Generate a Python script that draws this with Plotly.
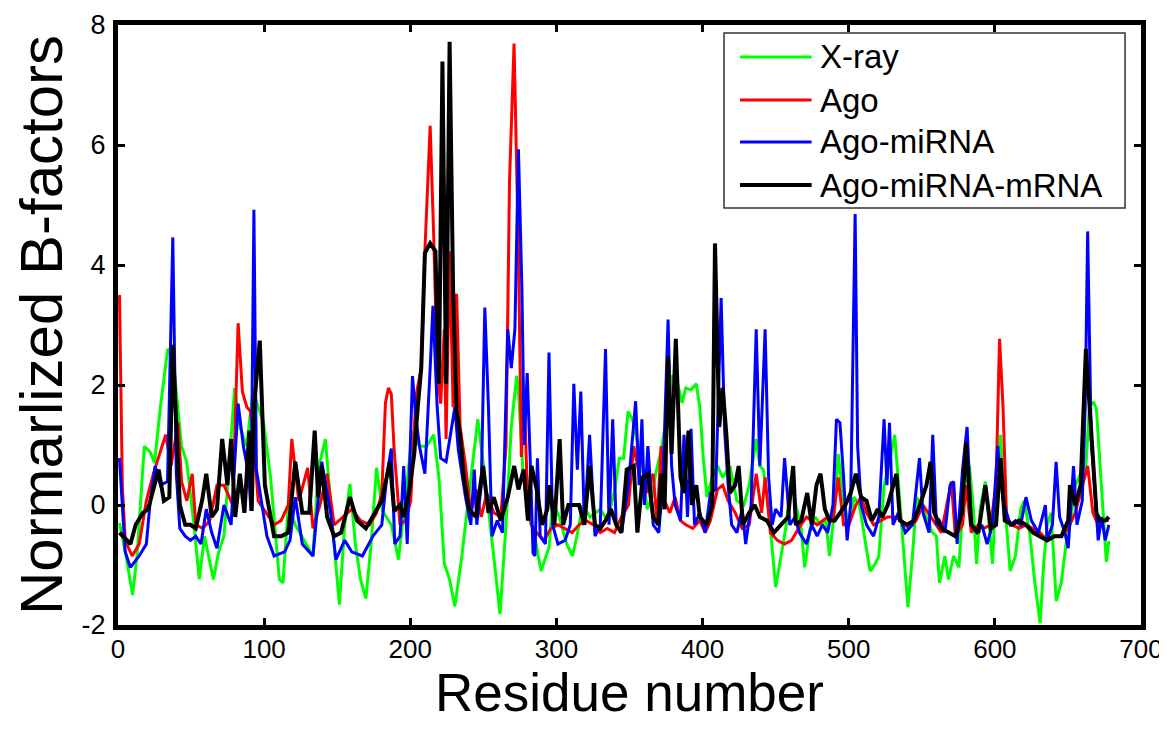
import plotly.graph_objects as go

# ---------------- data ----------------
xray_res = [1, 5, 10, 13, 18, 22, 25, 29, 34, 37.5, 43.5, 47, 52, 55.6, 59.2, 65.3, 68.9, 72.5, 76, 79.8, 83.4, 88,
            92.3, 99.6, 104.4, 110.4, 112.9, 116.5, 121.3, 127.3, 133.4, 137, 141.9, 146.7, 151.5, 155.1, 158.7, 162.4,
            166, 169.6, 173.2, 176.9, 181, 187, 191.9, 196.7, 201.5, 206.3, 211.2, 216, 219.6, 223.3, 226.9, 230.5,
            235.3, 239, 242.6, 246.2, 249.8, 253.5, 257.1, 261.4, 265.5, 269.1, 272.8, 274, 277, 281, 285, 289.5, 295,
            297.4, 302, 307, 311, 314, 318, 323, 330, 335, 340, 343, 346, 349, 352, 355, 359, 362, 365, 367.9, 371.6,
            375.2, 378.8, 382.4, 386, 388.5, 392.1, 395.7, 398.1, 400.5, 403, 406.6, 410.2, 413.8, 418.7, 423.5, 428.3,
            431.9, 436.7, 439.2, 441.6, 445.2, 447.6, 450, 453.7, 457.3, 460.5, 463.8, 467.5, 469.9, 473.5, 477.1,
            480.7, 484.4, 486.8, 490.4, 492.8, 496.5, 500.1, 503.7, 507.3, 510.9, 514.6, 518.2, 520.6, 524.2, 527.9,
            531.5, 535.1, 537.5, 540.5, 543.6, 546.5, 549.6, 553.2, 557, 560, 562.1, 565.8, 568.2, 571.8, 575.4, 579,
            582.6, 585.1, 587.5, 589.9, 593.5, 595.9, 598.4, 600.8, 603.9, 606.8, 610.5, 614.1, 617.7, 620.1, 623.8,
            627.4, 631, 633.4, 635.8, 638.5, 642, 645.4, 649, 651.4, 655, 658.7, 662.3, 664.7, 667.5, 669.5, 671.9,
            674.3, 676.3, 678]
xray_val = [-0.3, -0.78, -1.5, -0.85, 0.98, 0.88, 0.7, 1.63, 2.6, 2.48, 0.98, 0.72, -0.33, -1.24, -0.52, -1.24, -0.78,
            -0.52, 0.65, 1.95, 1.3, 0.98,
            1.89, 1.37, 0.46, -1.24, -1.3, 0.0, -0.33, -0.59, -0.85, 0.59, 1.1, -0.33, -1.66, -0.33, 0.35, -0.65,
            -1.24, -1.56, -0.65, 0.62, -0.1, -0.33, -0.91, 0.13, 1.24, 0.98, 0.98, 1.17, 0.46, -0.98, -1.24, -1.69,
            -0.85, -0.07, 0.65, 1.43, 0.72, -0.13, -0.85, -1.82, -0.33, 1.3, 2.15, 1.9, 0.6, -0.2, -0.5, -1.1, -0.7,
            0.07, -0.2, -0.65, -0.85, -0.52, 0.0, -0.2, -0.07, -0.26, 0.26, 0.78, 0.78, 1.56, 1.43, 1.1, 0.65, -0.07,
            0.1, 0.52, 0.91,
            1.43, 2.15, 2.08, 1.7, 1.95, 1.92, 2.02, 1.63, 0.78, 0.13, 0.46, 0.65, 0.46, 0.65, 0.07, 0.0,
            0.33, 1.1, 0.65, 0.59, -0.07, -0.78, -1.37, -0.85, -0.33, 0.45, 0.0, -0.39, -1.04, -0.39, -0.2,
            -0.33, -0.26, -0.85, -0.07, 0.85, 0.07, -0.33, 0.13, 0.0, -0.52, -1.1, -0.98, -0.85, 0.33, 0.72,
            1.17, 0.0, -0.85, -1.7, -0.85, 0.13, 0.0, -0.2, -0.45, -0.52, -1.3, -0.85, -1.24, -0.85, -1.04, 0.33,
            0.65, 0.0, -0.98, -0.07, 0.39, -0.33, -0.98, 0.33, 1.17, 0.0, -1.1, -0.85, -0.07, 0.07, -0.46,
            -1.3, -1.97, -0.98, -0.33, -0.13, -1.6, -1.3, -0.59, -0.33, 0.33, 0.52, 0.65, 1.63, 1.72, 1.6, 0.65,
            -0.33, -0.95, -0.6]

ago_res = [1, 3, 5, 9.7, 14.5, 19.4, 24.2, 29, 32.6, 36.3, 41.1, 43.5, 47.1, 50.8, 53.2, 58, 62.8, 67.7, 72.5, 78.5,
           82.2, 85.1, 88.2, 90.6, 93, 95.9, 101.5, 106.8, 111.6, 116.5, 118.9, 123.7, 129.8, 133.4, 138.2, 143.1,
           147.9, 153.9, 160, 166, 172.1, 176.9, 180.5, 183, 185, 187, 189, 193, 196.7, 200.3, 203.9, 207.5, 210,
           213.6, 216, 218.4, 220.8, 223.3, 224.5, 226.9, 229.3, 231.7, 234.1, 237.8, 241.4, 245, 248.6, 252.3, 257.1,
           261.9, 265.5, 267.9, 271, 274, 276, 278, 280, 282.9, 286.5, 291.4, 296.2, 301, 305.9, 310.7, 315.5, 320.3,
           325.2, 330, 334.8, 339.7, 344.5, 349.3, 352.9, 356.6, 361.4, 366.2, 368.9, 371.6, 374, 377.6, 381.2, 384.9,
           388.5, 393.3, 398.1, 401.8, 405.4, 410.2, 413.8, 417.5, 422.3, 427.1, 431.9, 436.7, 440.4, 442.8, 446.4,
           451.2, 456.1, 460.9, 465.7, 471.1, 478.4, 485.6, 489.2, 492.8, 496.5, 500.1, 504.9, 508.5, 512.2, 517,
           521.8, 526.7, 531.5, 536.3, 541.1, 546, 550.8, 558, 563.4, 570.2, 573, 577.9, 580.3, 583.9, 588.7, 592.3,
           597.2, 600.8, 603.2, 605.6, 608, 611.7, 616.5, 621.3, 626.2, 631, 635.8, 640.7, 645.5, 650.2, 655, 659.8,
           663.5, 667.1, 670.7, 674.3, 678]
ago_val = [3.5, 0.3, -0.6, -0.85, -0.65, 0.07, 0.52, 0.91, 1.17, 0.65, 1.37, 0.39, 0.07, 0.52, -0.33, -0.39, -0.26,
           0.33, 0.33, 0.0, 3.03, 1.89, 1.63, 1.56, 1.04, 0.07, -0.13, -0.33, -0.26, 0.0, 1.1, 0.07, 0.62, -0.39, 0.0,
           0.52, -0.33, -0.2, -0.07, -0.26, -0.33, -0.13, 0.2, 1.7, 1.95, 1.85, 0.9, -0.33, -0.26, 0.07, 1.82, 2.28,
           4.23, 6.32, 4.5, 2.28, 1.69, 2.93, 1.1, 4.23, 1.63, 3.52, 1.3, 0.65, -0.13, 0.26, -0.2, 0.2, -0.13, -0.2,
           0.98, 5.4, 7.69, 4.23, 0.8, 1.8, 0.3, -0.33, -0.46, -0.59, -0.39, -0.33, -0.39, -0.46, -0.33, -0.26, -0.33,
           -0.46, -0.39, -0.46, -0.2, 0.0, 0.98, 0.52, 0.2, 0.52, -0.3, 0.98, 0.07, -0.13, 0.13, -0.26, -0.33, -0.39,
           -0.26, -0.46, -0.26, 0.26, 0.33, 0.07, -0.13, -0.39, -0.33, 0.52, -0.13, 0.46, -0.46, -0.59, -0.65, -0.59,
           -0.39, -0.2, -0.33, -0.2, -0.26, 0.46, -0.33, -0.33, 0.0, 0.13, -0.13, -0.33, -0.26, -0.2, -0.2, -0.26,
           -0.39, -0.26, 0.0, -0.26, -0.46, 0.39, -0.52, -0.33, 0.33, -0.46, -0.33, -0.39, -0.33, 0.33, 2.77, 1.63,
           -0.2, -0.33, -0.39, -0.33, -0.39, -0.46, -0.59, -0.52, -0.52, -0.39, -0.13, 0.33, 0.65, -0.13, -0.33,
           -0.26, -0.26]

agomi_res = [1, 4.9, 8.5, 14.5, 19.4, 21.8, 25.4, 29, 33.9, 37.5, 39.9, 42.3, 46, 49.6, 53.2, 56.8, 60.4, 64.1, 67.7,
             72.5, 77.4, 82.2, 85.8, 89.4, 91, 93, 94.7, 98.4, 101.9, 106.8, 114, 117.7, 121.3, 126.1, 133.4, 139.4,
             145.5, 149.1, 155.1, 160, 167.2, 174.4, 180.5, 184, 187, 189.4, 193, 195.5, 197.9, 201.5, 203.9, 206.3,
             210, 213.6, 215.5, 218.4, 220.8, 224.5, 228.1, 230.5, 232.9, 237.8, 241.4, 243.8, 245.5, 248.6, 251,
             253.5, 255.9, 259.5, 263.1, 266.7, 269.1, 271.6, 274, 276.4, 278, 280, 282, 284, 285.3, 287, 288.9,
             292.5, 294.9, 297.4, 301, 305.9, 309.5, 311.9, 314.3, 316.7, 319.1, 322.7, 326.4, 330, 333.6, 336,
             338.5, 340.9, 344.5, 349.3, 354.2, 356.6, 358.5, 360.2, 362.6, 366.2, 370, 372.8, 376.4, 378.8, 381.2,
             384.9, 387.3, 389.7, 392.1, 394.5, 398.1, 401.8, 405.4, 409, 412.7, 415.1, 417.5, 419.9, 423.5, 427.1,
             429.5, 433.2, 434.8, 436.7, 439.2, 442.8, 445.2, 447.6, 450, 453.7, 456.1, 459.7, 463.3, 466.2, 471.1,
             474.7, 478.4, 482, 485.6, 489.2, 491.6, 494, 496.5, 498.9, 501.3, 504.4, 506.1, 508.5, 512.2, 517,
             520.6, 524.2, 526.2, 527.9, 530.3, 533.9, 538.7, 543.6, 548.4, 550.8, 555, 557.5, 560, 562.1, 565.8,
             569.4, 571.8, 574.2, 577.9, 581, 583.9, 587.5, 591.1, 594.7, 598.4, 602, 605.6, 610.5, 614.1, 617.7,
             621.3, 625, 629.8, 634.6, 635.8, 639.4, 641.9, 644.3, 647.9, 650.2, 653.8, 656.2, 659.8, 661.8, 663.5,
             665.9, 668.3, 670.7, 673.1, 675.5, 678]
agomi_val = [0.78, -0.78, -1.04, -0.85, -0.65, 0.0, 0.65, 0.33, 0.39, 4.46, 0.52, -0.39, -0.52, -0.59, -0.52, -0.65,
             -0.07, -0.46, -0.72, 0.0, -0.33, 1.69, 0.98, 0.52, -0.1, 4.92, 0.59, 0.0, -0.52, -0.85, -0.78, -0.59,
             0.13, -0.65, -0.85, 0.72, -0.13, -0.91, -0.59, -0.78, -0.85, -0.52, -0.33, 0.5, 0.94, -0.65, -0.52,
             0.65, -0.65, 2.15, 1.43, 0.98, 0.52, 2.28, 3.32, 1.63, 0.78, 0.72, 1.3, 1.63, 0.91, 0.13, -0.33, 0.59,
             -0.33, 0.33, 3.29, 1.63, -0.52, -0.26, -0.46, 2.93, 2.28, 2.93, 5.93, 3.58, 1.0, 2.2, 0.8, -0.8, -0.85,
             0.78, -0.52, -0.65, 2.54, -0.33, -0.65, -0.59, -0.33, 2.02, 0.59, 1.89, -0.33, 1.17, -0.52, -0.33, 2.6,
             -0.33, 1.43, -0.33, -0.46, 0.33, 1.73, 0.33, 1.43, 0.0, 0.98, -0.33, -0.46, 0.33, 3.09, 0.65, 0.0,
             -0.26, 1.17, -0.2, 1.27, -0.33, -0.13, -0.46, 0.2, 0.26, 3.45, 1.24, 0.33, -0.33, -0.46, -0.07, -0.65,
             0.0, 1.3, 2.93, 0.65, 2.93, 0.46, -0.33, -0.07, -0.2, 0.78, -0.33, -0.2, -0.46, -0.65, -0.33, -0.52,
             -0.33, -0.46, 0.0, 1.43, 1.37, 0.46, -0.59, 0.0, 4.85, 0.98, 0.0, -0.33, -0.52, -0.2, 1.43, 0.33, 1.37,
             -0.33, -0.13, -0.46, -0.33, 0.78, -0.13, -0.46, 1.17, -0.33, -0.26, -0.46, 0.33, 0.39, -0.65, 0.59,
             1.3, -0.33, -0.46, -0.33, -0.65, -0.33, 0.98, 0.07, -0.33, -0.26, -0.33, 0.13, -0.26, -0.46, 0.0,
             -0.59, -0.33, 0.72, -0.2, -0.46, -0.72, 0.65, -0.33, 0.07, 1.63, 4.56, 1.1, 0.33, -0.59, -0.2, -0.59,
             -0.33]

agomm_res = [1, 8.5, 12.1, 17, 20.6, 24.2, 27.8, 31.4, 35.1, 37.5, 39.9, 42.3, 46, 49.6, 53.2, 57.5, 60.4, 64.1,
             67.7, 71.3, 74.9, 77.4, 80.2, 83.4, 86.5, 89.9, 91.5, 93, 97, 100.5, 106.8, 111.6, 116.5, 121.3, 126.1,
             130.9, 134.6, 137, 139.4, 143.1, 147.9, 152.7, 158.7, 163.6, 169.6, 175.6, 180.5, 186, 189, 193, 195.5,
             199.1, 202.7, 205.1, 207.5, 210, 213.6, 217.2, 219.6, 222, 224.5, 226.9, 229.3, 231.7, 234.1, 236.6,
             240.2, 245, 249.8, 253.5, 257.1, 261.9, 266.7, 271.1, 274, 277.6, 280.5, 282.9, 286.5, 290.2, 293.8,
             295.4, 298.6, 302.2, 304.6, 308.2, 311.9, 315.5, 319.1, 322.7, 326.4, 330, 333.6, 337.3, 340.9, 344.5,
             348.1, 352.9, 355.4, 359, 362.6, 366.2, 369.8, 371.6, 374, 376.4, 378.8, 381.7, 384.9, 387.3, 390.4,
             392.8, 395.7, 398.1, 403, 406.6, 408.5, 411.4, 413.8, 416.3, 418.7, 422.3, 424.7, 427.6, 431.9, 435.6,
             439.2, 444, 448.8, 453.7, 458.5, 462, 463.8, 467.5, 471.6, 474.7, 477.9, 480.7, 483.7, 486.8, 490.4,
             494.1, 497.7, 501.3, 504.9, 508.5, 512.2, 515.8, 519.9, 523, 526.7, 532.7, 535.1, 539.9, 544.8, 549.6,
             553.2, 556, 558.5, 563.4, 568.2, 573, 577.4, 580.3, 583.9, 588.7, 593.5, 597.2, 600.8, 603.9, 606.8,
             611.7, 616.5, 621.3, 626.2, 631, 635.8, 640.7, 645.5, 650.2, 651.4, 655, 658.7, 662.3, 664.7, 667.1,
             669.5, 671.9, 675.5, 678]
agomm_val = [-0.46, -0.65, -0.33, -0.13, -0.07, 0.26, 0.59, 0.07, 0.13, 2.67, 1.3, 0.0, -0.33, -0.33, -0.39, 0.07,
             0.52, -0.2, -0.07, 1.1, 0.33, 1.1, -0.2, 0.52, -0.13, 1.24, -0.1, 1.63, 2.74, 0.33, -0.52, -0.52, -0.46,
             0.72, -0.13, -0.13, 1.24, 0.13, 0.65, -0.2, -0.52, -0.46, 0.13, -0.26, -0.39, -0.13, 0.07, 0.72, -0.1,
             0.0, -0.2, 0.2, 0.85, 1.63, 2.28, 4.2, 4.36, 4.23, 2.02, 7.39, 2.02, 7.72, 3.58, 1.56, 1.17, 0.46,
             -0.07, -0.2, 0.65, -0.13, 0.13, -0.26, 0.13, 0.65, 0.26, 0.59, -0.26, 0.65, 0.26, -0.33, -0.07, 0.33,
             -0.33, 1.1, -0.33, 0.0, 0.0, 0.0, -0.33, 0.65, -0.33, -0.39, -0.26, -0.07, -0.33, -0.46, 0.59, 0.65,
             -0.46, 0.46, 0.52, -0.2, -0.33, 0.52, -0.07, 2.48, 0.85, 2.77, 0.46, 0.2, 1.24, 0.0, 0.33, -0.2, -0.33,
             0.0, 4.36, 1.3, 1.95, 1.17, 0.2, 0.33, 0.65, -0.33, -0.13, 0.0, -0.2, -0.26, -0.46, -0.33, -0.2, 0.65,
             -0.33, -0.26, 0.2, -0.33, 0.33, 0.52, -0.07, -0.26, -0.26, -0.13, 0.0, 0.2, 0.52, 0.13, 0.07, -0.26,
             -0.07, -0.2, 0.0, 0.52, -0.26, -0.33, -0.26, 0.07, 0.33, 0.72, -0.13, -0.39, -0.46, -0.52, -0.13, 1.04,
             -0.33, -0.46, 0.33, -0.39, -0.33, 0.78, -0.26, -0.33, -0.26, -0.33, -0.46, -0.52, -0.59, -0.52, -0.52,
             -0.26, 0.33, 0.0, 0.33, 2.6, 1.63, 0.65, -0.13, -0.26, -0.26, -0.2]

series_names = ["X-ray", "Ago", "Ago-miRNA", "Ago-miRNA-mRNA"]
series_colors = ["#00ff00", "#ff0000", "#0000ff", "#000000"]
x_ticks = [0, 100, 200, 300, 400, 500, 600, 700]
y_ticks = [-2, 0, 2, 4, 6, 8]
y_ticktext = ["-2", "0", "2", "4", "6", "8"]
x_title = "Residue number"
y_title = "Normarlized B-factors"

# ---------------- figure ----------------
FONT = "Liberation Sans, Arial, sans-serif"
widths = [3, 3, 3, 4]
data = [(xray_res, xray_val), (ago_res, ago_val), (agomi_res, agomi_val), (agomm_res, agomm_val)]

fig = go.Figure()
for name, (xs, ys), col, w in zip(series_names, data, series_colors, widths):
    fig.add_trace(go.Scatter(x=xs, y=ys, mode="lines", name=name, showlegend=False,
                             line=dict(color=col, width=w)))

axis_common = dict(showline=True, linewidth=5, linecolor="black", mirror="ticks",
                   ticks="inside", ticklen=7, tickwidth=3, tickcolor="black",
                   showgrid=False, zeroline=False, automargin=False,
                   ticklabeloverflow="allow")
fig.update_xaxes(range=[0, 700], tickvals=x_ticks, ticklabelstandoff=-3,
                 tickfont=dict(family=FONT, size=26, color="black"), **axis_common)
fig.update_yaxes(range=[-2, 8], tickvals=y_ticks, ticktext=y_ticktext, ticklabelstandoff=2,
                 tickfont=dict(family=FONT, size=27, color="black"),
                 title=dict(text=y_title, font=dict(family=FONT, size=60, color="black"), standoff=22),
                 **axis_common)

# legend box drawn in paper coordinates (matches the reference's long line samples)
LX0, LX1, LY0, LY1 = 0.5924, 0.9844, 0.695, 0.9867
fig.add_shape(type="rect", xref="paper", yref="paper", x0=LX0, x1=LX1, y0=LY0, y1=LY1,
              line=dict(color="#333333", width=1.5), fillcolor="white", layer="above")
entry_y = [0.9467, 0.875, 0.805, 0.7333]
for name, col, w, yy in zip(series_names, series_colors, widths, entry_y):
    fig.add_shape(type="line", xref="paper", yref="paper", x0=0.608, x1=0.678, y0=yy, y1=yy,
                  line=dict(color=col, width=w), layer="above")
    fig.add_annotation(xref="paper", yref="paper", x=0.684, y=yy, text=name, showarrow=False,
                       xanchor="left", yanchor="middle",
                       font=dict(family=FONT, size=33, color="black"))

fig.add_annotation(xref="paper", yref="paper", x=0.5, y=-0.113, text=x_title, showarrow=False,
                   xanchor="center", yanchor="middle",
                   font=dict(family=FONT, size=53, color="black"))

# the page adds an 8px body margin, so the figure is 8px smaller than the window
fig.update_layout(
    width=1159, height=722,
    margin=dict(l=110, r=26, t=17, b=105),
    paper_bgcolor="white", plot_bgcolor="white",
    showlegend=False,
)
fig.write_html("out.html")
